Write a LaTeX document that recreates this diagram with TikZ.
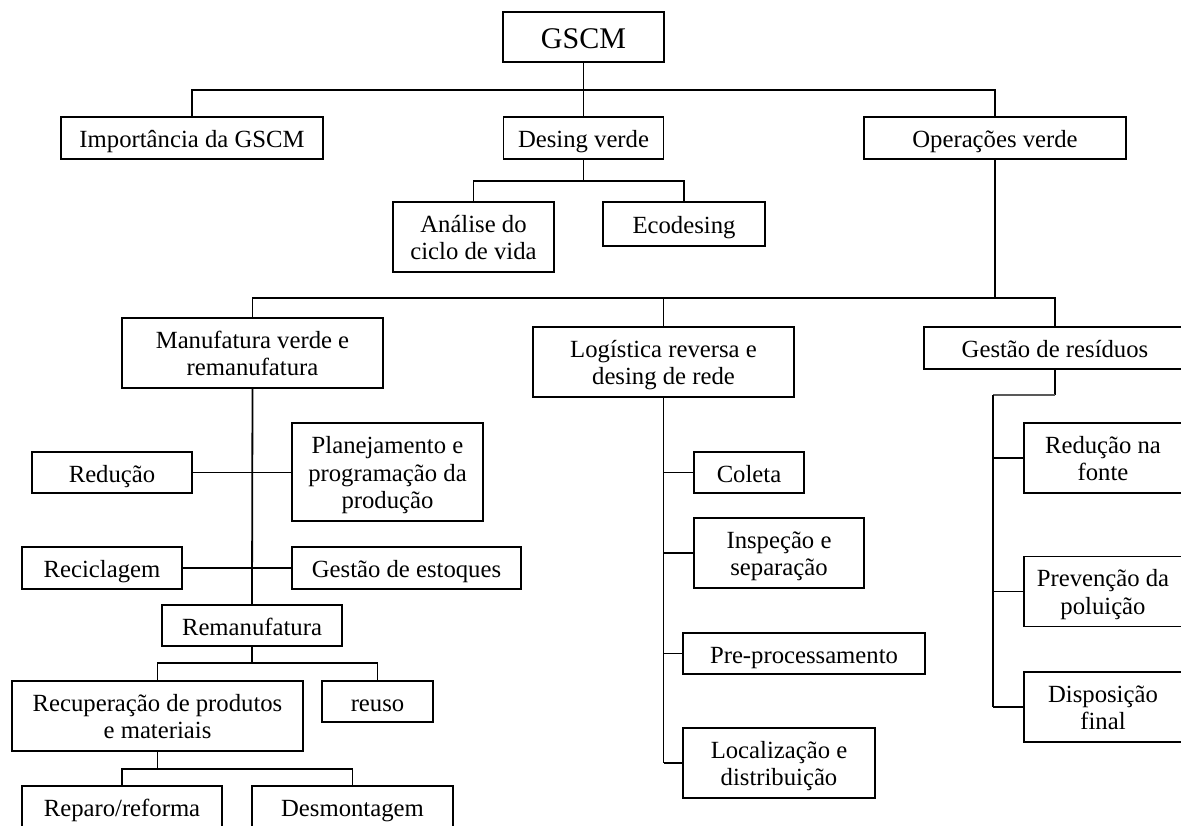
\documentclass[tikz,border=0pt]{standalone}
\usepackage{fontspec}
\setmainfont{Liberation Serif}
\usepackage{tikz}

\tikzset{
caixa/.style={draw, line width=1.3pt, minimum height=42pt, inner sep=0pt, align=center,
  text height=20pt, text depth=1pt, font=\fontsize{24.7}{27.5}\selectfont},
duas/.style={text height=46.5pt},
tres/.style={text height=74pt},
liga/.style={line width=1.3pt},
tronco/.style={line width=1.8pt}
}

\begin{document}
\begin{tikzpicture}[x=1pt, y=-1pt]

% Page size
\useasboundingbox (0,0) rectangle (1181,825);

% Top level
\node[caixa, minimum width=161pt, minimum height=50pt, text height=23pt, font=\fontsize{30}{32}\selectfont] (gscm) at (583.5,37) {GSCM};
\node[caixa, minimum width=262pt] (imp) at (192,138) {Importância da GSCM};
\node[caixa, minimum width=160pt] (desv) at (583.5,138) {Desing verde};
\node[caixa, minimum width=262pt] (opv) at (995,138) {Operações verde};

\coordinate (bus1) at (583.5,90);
\draw[liga] (gscm.south) -- (desv.north);
\draw[liga] (imp.north) |- (bus1) -| (opv.north);

% Desing verde
\node[caixa, duas, minimum width=161pt, minimum height=70pt] (analise) at (473.5,237) {Análise do\\ciclo de vida};
\node[caixa, minimum width=162pt, minimum height=44pt] (ecod) at (684,224) {Ecodesing};

\coordinate (bus2) at (583.5,181);
\draw[liga] (desv.south) -- (bus2);
\draw[liga] (analise.north) |- (bus2) -| (ecod.north);

% Operacoes verde
\node[caixa, duas, minimum width=261pt, minimum height=70pt] (manuf) at (252.5,353) {Manufatura verde e\\remanufatura};
\node[caixa, duas, minimum width=261pt, minimum height=70pt] (logist) at (663.5,362) {Logística reversa e\\desing de rede};
\node[caixa, minimum width=270pt] (gestres) at (1059,348) {\hspace*{-8pt}Gestão de resíduos};

\coordinate (bus3) at (995,298);
\coordinate (gtopo) at (1055,327);
\draw[tronco] (opv.south) -- (bus3);
\draw[liga] (manuf.north) |- (bus3) -| (gtopo);
\draw[liga] (logist.north) -- (logist.north |- bus3);

% Manufatura verde e remanufatura
\node[caixa, minimum width=160pt, minimum height=41pt] (reducao) at (112,472.5) {Redução};
\node[caixa, tres, minimum width=191pt, minimum height=98pt] (planej) at (387.5,472) {Planejamento e\\programação da\\produção};
\node[caixa, minimum width=160pt] (recicl) at (102,568) {Reciclagem};
\node[caixa, minimum width=229pt] (gestoq) at (406.5,568) {Gestão de estoques};
\node[caixa, minimum width=180pt, minimum height=41pt] (reman) at (252,625.5) {Remanufatura};

\draw[tronco] (manuf.south) -- (reman.north);
\draw[liga] (reducao.east) -- (planej.west |- reducao.east);
\draw[liga] (recicl.east) -- (gestoq.west);

% Remanufatura
\node[caixa, duas, minimum width=291pt, minimum height=70pt] (recup) at (157.5,716) {Recuperação de produtos\\e materiais};
\node[caixa, minimum width=111pt, minimum height=41pt] (reuso) at (377.5,701.5) {reuso};

\coordinate (bus4) at (252,663);
\draw[liga] (reman.south) -- (bus4);
\draw[liga] (recup.north) |- (bus4) -| (reuso.north);

\node[caixa, minimum width=200pt] (reparo) at (122,807) {Reparo/reforma};
\node[caixa, minimum width=201pt] (desmont) at (352.5,807) {Desmontagem};

\coordinate (bus5) at (157.5,769);
\draw[liga] (recup.south) -- (bus5);
\draw[liga] (reparo.north) |- (bus5) -| (desmont.north);

% Logistica reversa
\node[caixa, minimum width=110pt, minimum height=41pt] (coleta) at (749,472.5) {Coleta};
\node[caixa, duas, minimum width=170pt, minimum height=70pt] (inspec) at (779,553) {Inspeção e\\separação};
\node[caixa, minimum width=242pt, minimum height=41pt] (preproc) at (804,653.5) {Pre-processamento};
\node[caixa, duas, minimum width=192pt, minimum height=70pt] (localiz) at (779,763) {Localização e\\distribuição};

\draw[tronco] (logist.south) -- (logist.south |- localiz.west);
\foreach \n in {coleta,inspec,preproc,localiz}{
\draw[liga] (\n.west) -- (\n.west -| logist.south);
}

% Gestao de residuos
\node[caixa, duas, minimum width=166pt, minimum height=70pt] (redfonte) at (1107,458) {\hspace*{-8pt}Redução na\\\hspace*{-8pt}fonte};
\node[caixa, duas, minimum width=166pt, minimum height=70pt] (prevpol) at (1107,591.5) {\hspace*{-8pt}Prevenção da\\\hspace*{-8pt}poluição};
\node[caixa, duas, minimum width=166pt, minimum height=70pt] (dispfin) at (1107,707) {\hspace*{-8pt}Disposição\\\hspace*{-8pt}final};

\coordinate (gdobra) at (993,395);
\draw[tronco] (gtopo |- gestres.south) -- (gtopo |- gdobra);
\draw[line width=2.6pt, black!65] (gtopo |- gdobra) -- (gdobra);
\draw[tronco] (gdobra) -- (gdobra |- dispfin.west);
\foreach \n in {redfonte,prevpol,dispfin}{
\draw[liga] (\n.west) -- (\n.west -| gdobra);
}

\end{tikzpicture}
\end{document}
